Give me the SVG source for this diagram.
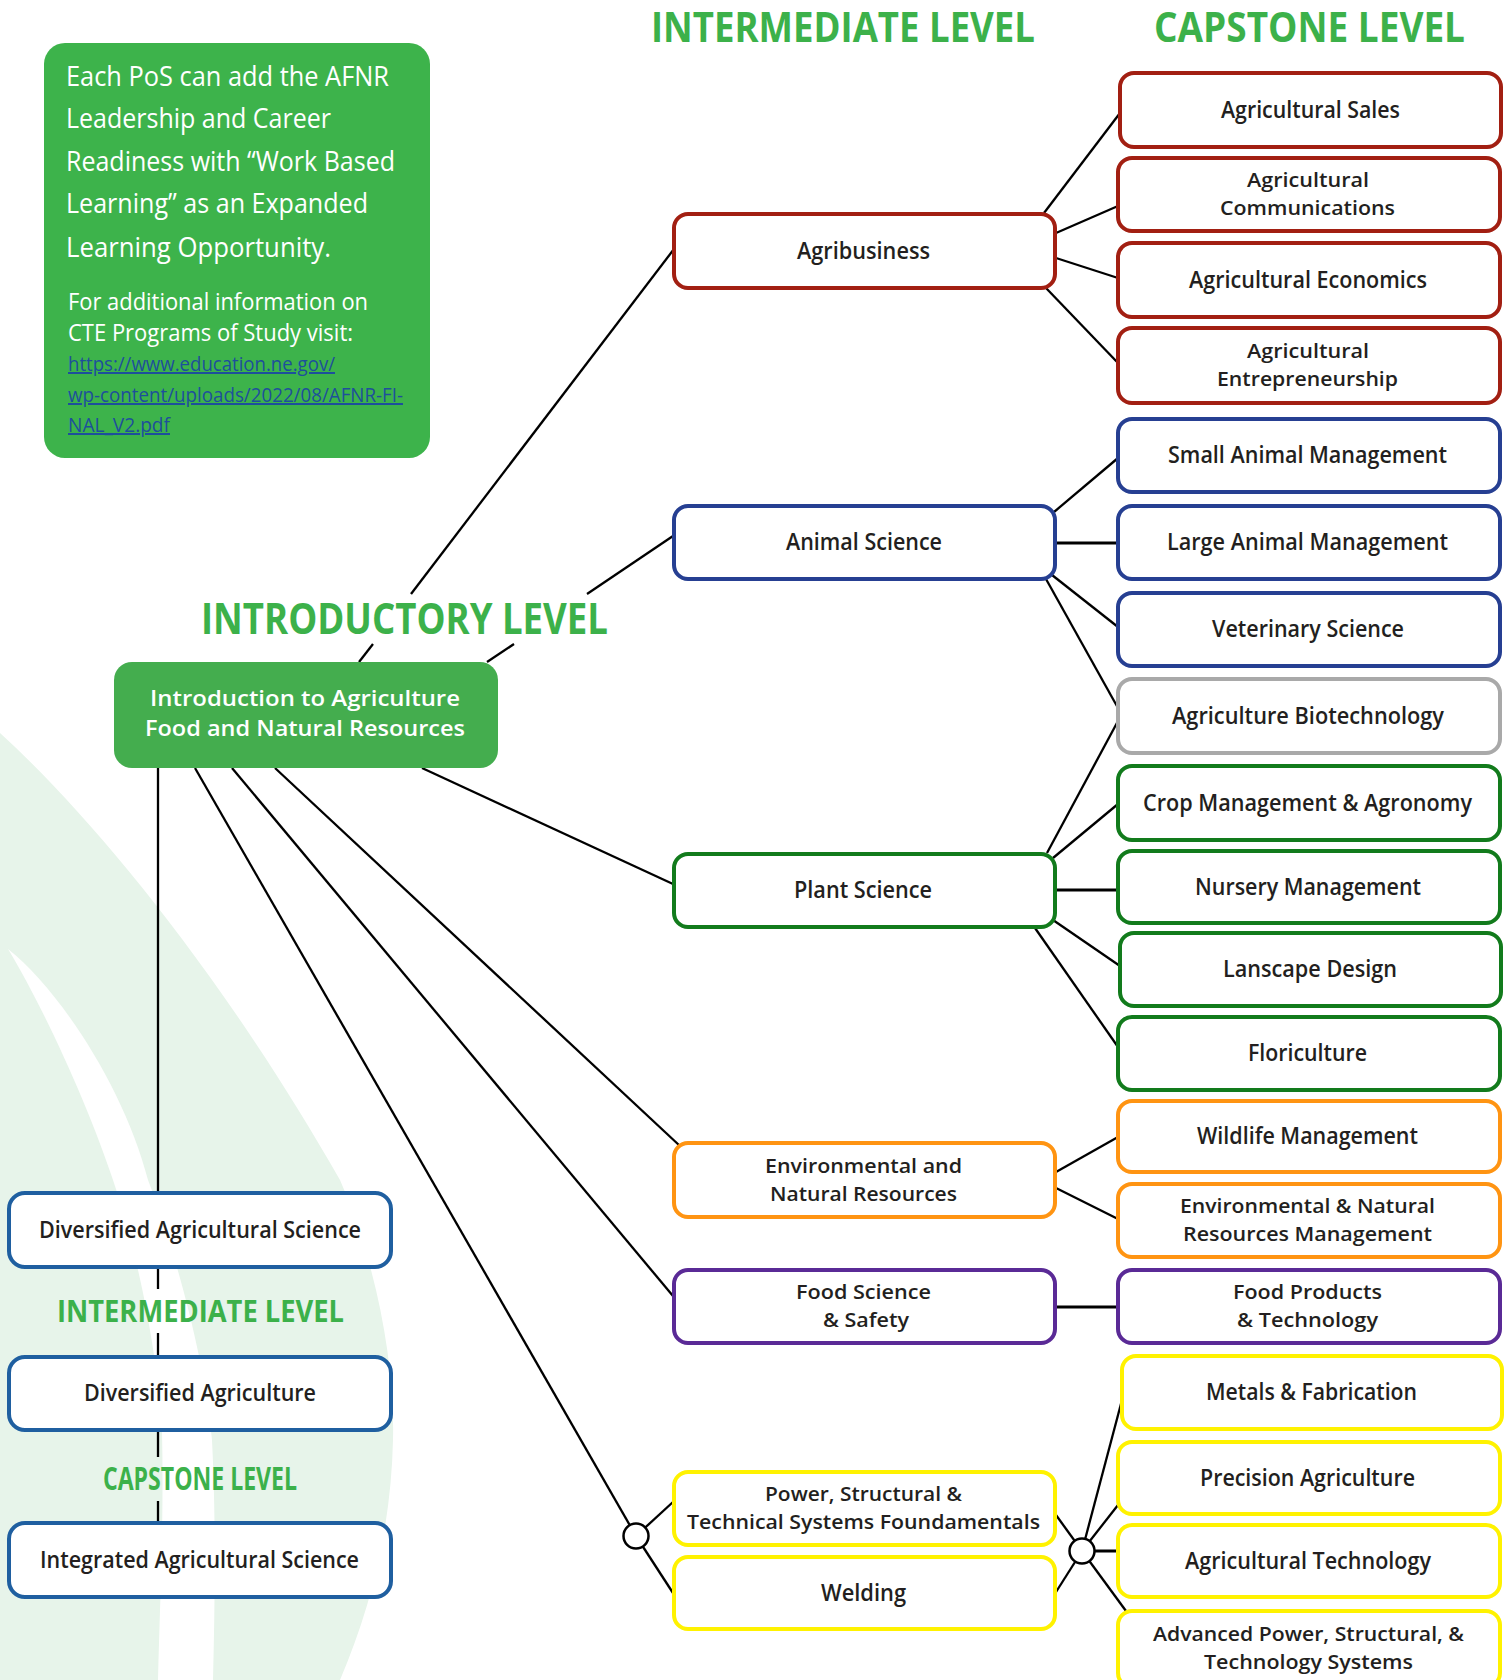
<svg xmlns="http://www.w3.org/2000/svg" width="1510" height="1680" viewBox="0 0 1510 1680">
<style>
.bg{fill:#e7f4ea}
.stripe{fill:#ffffff}
.box{fill:#ffffff;stroke-width:4}
.red{stroke:#a21f12}
.navy{stroke:#263f92}
.gray{stroke:#a9a9a9}
.grn{stroke:#127b1c}
.org{stroke:#ff9412}
.pur{stroke:#5a2a96}
.yel{stroke:#fff200}
.lblue{stroke:#1f5fa0}
.t{font-family:"Open Sans","Liberation Sans",sans-serif;font-weight:600;font-size:23px;fill:#231f20}
.t2{font-family:"Open Sans","Liberation Sans",sans-serif;font-weight:600;font-size:20.5px;fill:#231f20}
.hdr{font-family:"Open Sans","Liberation Sans",sans-serif;font-weight:700;fill:#3cb14a}
.info{font-family:"Open Sans","Liberation Sans",sans-serif;font-weight:400;fill:#ffffff}
.link{font-family:"Open Sans","Liberation Sans",sans-serif;font-weight:400;font-size:20px;fill:#1d4f9c;text-decoration:underline}
.wt{font-family:"Open Sans","Liberation Sans",sans-serif;font-weight:600;font-size:22px;fill:#ffffff}
.c line{stroke:#000000;stroke-width:2.3;fill:none}
.c line.thick{stroke-width:3.2}
.c circle{fill:#ffffff;stroke:#000000;stroke-width:2.5}
</style>

<g id="background">
<path class="bg" d="M0,733 C90,815 220,970 340,1180 C375,1260 395,1360 393,1440 C391,1530 370,1610 340,1680 L0,1680 Z"/>
<path class="stripe" d="M8,949 C60,990 125,1090 148,1180 C175,1250 205,1360 212,1440 C216,1520 215,1600 213,1680 L158,1680 C160,1600 164,1520 162,1430 C158,1360 140,1260 113,1180 C90,1110 45,1010 8,949 Z"/>
</g>

<g id="headers">
<text class="hdr" x="651" y="42" font-size="42" textLength="384" lengthAdjust="spacingAndGlyphs">INTERMEDIATE LEVEL</text>
<text class="hdr" x="1154" y="42" font-size="42" textLength="311" lengthAdjust="spacingAndGlyphs">CAPSTONE LEVEL</text>
<text class="hdr" x="201" y="634" font-size="43" textLength="407" lengthAdjust="spacingAndGlyphs">INTRODUCTORY LEVEL</text>
<text class="hdr" x="57" y="1322" font-size="31" textLength="287" lengthAdjust="spacingAndGlyphs">INTERMEDIATE LEVEL</text>
<text class="hdr" x="103" y="1490" font-size="32" textLength="194" lengthAdjust="spacingAndGlyphs">CAPSTONE LEVEL</text>
</g>

<g id="info-box">
<rect x="44" y="43" width="386" height="415" rx="21" fill="#3db34b"/>
<text class="info" font-size="27" x="66" y="86" textLength="323" lengthAdjust="spacingAndGlyphs">Each PoS can add the AFNR</text>
<text class="info" font-size="27" x="66" y="128" textLength="265" lengthAdjust="spacingAndGlyphs">Leadership and Career</text>
<text class="info" font-size="27" x="66" y="171" textLength="329" lengthAdjust="spacingAndGlyphs">Readiness with “Work Based</text>
<text class="info" font-size="27" x="66" y="213" textLength="302" lengthAdjust="spacingAndGlyphs">Learning” as an Expanded</text>
<text class="info" font-size="27" x="66" y="257" textLength="265" lengthAdjust="spacingAndGlyphs">Learning Opportunity.</text>
<text class="info" font-size="23" x="68" y="310" textLength="300" lengthAdjust="spacingAndGlyphs">For additional information on</text>
<text class="info" font-size="23" x="68" y="341" textLength="285" lengthAdjust="spacingAndGlyphs">CTE Programs of Study visit:</text>
<text class="link" x="68" y="371" textLength="267" lengthAdjust="spacingAndGlyphs">https://www.education.ne.gov/</text>
<text class="link" x="68" y="402" textLength="335" lengthAdjust="spacingAndGlyphs">wp-content/uploads/2022/08/AFNR-FI-</text>
<text class="link" x="68" y="432" textLength="102" lengthAdjust="spacingAndGlyphs">NAL_V2.pdf</text>
</g>

<g id="connectors" class="c">
<line x1="359" y1="662" x2="373" y2="644"/>
<line x1="411" y1="594" x2="674" y2="249"/>
<line x1="487" y1="662" x2="514" y2="644"/>
<line x1="587" y1="594" x2="673" y2="536"/>
<line x1="422" y1="768" x2="673" y2="884"/>
<line x1="275" y1="768" x2="680" y2="1146"/>
<line x1="232" y1="768" x2="673" y2="1296"/>
<line x1="195" y1="768" x2="636" y2="1536"/>
<line x1="636" y1="1536" x2="673" y2="1502"/>
<line x1="636" y1="1536" x2="673" y2="1593"/>
<line x1="158" y1="768" x2="158" y2="1193"/>
<line x1="158" y1="1267" x2="158" y2="1289"/>
<line x1="158" y1="1333" x2="158" y2="1357"/>
<line x1="158" y1="1430" x2="158" y2="1457"/>
<line x1="158" y1="1501" x2="158" y2="1523"/>
<line x1="1044" y1="213" x2="1120" y2="113"/>
<line x1="1056" y1="233" x2="1118" y2="206"/>
<line x1="1056" y1="258" x2="1118" y2="278"/>
<line x1="1046" y1="288" x2="1118" y2="363"/>
<line x1="1054" y1="512" x2="1118" y2="458"/>
<line class="thick" x1="1056" y1="543" x2="1118" y2="543"/>
<line x1="1052" y1="575" x2="1118" y2="627"/>
<line x1="1046" y1="579" x2="1118" y2="708"/>
<line x1="1047" y1="853" x2="1118" y2="721"/>
<line x1="1053" y1="858" x2="1118" y2="804"/>
<line class="thick" x1="1056" y1="890" x2="1118" y2="890"/>
<line x1="1053" y1="920" x2="1120" y2="966"/>
<line x1="1035" y1="928" x2="1118" y2="1047"/>
<line x1="1056" y1="1172" x2="1118" y2="1137"/>
<line x1="1056" y1="1188" x2="1118" y2="1219"/>
<line class="thick" x1="1056" y1="1307" x2="1118" y2="1307"/>
<line x1="1056" y1="1515" x2="1082" y2="1551"/>
<line x1="1056" y1="1592" x2="1082" y2="1551"/>
<line x1="1082" y1="1551" x2="1122" y2="1400"/>
<line x1="1082" y1="1551" x2="1118" y2="1505"/>
<line class="thick" x1="1082" y1="1551" x2="1118" y2="1551"/>
<line x1="1082" y1="1551" x2="1126" y2="1611"/>
<circle cx="636" cy="1536" r="12.5"/>
<circle cx="1082" cy="1551" r="12.5"/>
</g>

<g id="intro">
<rect x="114" y="662" width="384" height="106" rx="18" fill="#44ad4e"/>
<text class="wt" x="150" y="706" textLength="310" lengthAdjust="spacingAndGlyphs">Introduction to Agriculture</text>
<text class="wt" x="145" y="736" textLength="320" lengthAdjust="spacingAndGlyphs">Food and Natural Resources</text>
</g>

<g id="agribusiness"><rect class="box red" x="674" y="214" width="381" height="74" rx="14"/><text class="t" x="797" y="259" textLength="133" lengthAdjust="spacingAndGlyphs">Agribusiness</text></g>
<g id="animal-science"><rect class="box navy" x="674" y="506" width="381" height="73" rx="14"/><text class="t" x="786" y="550" textLength="156" lengthAdjust="spacingAndGlyphs">Animal Science</text></g>
<g id="plant-science"><rect class="box grn" x="674" y="854" width="381" height="73" rx="14"/><text class="t" x="794" y="898" textLength="138" lengthAdjust="spacingAndGlyphs">Plant Science</text></g>
<g id="env-nat-res"><rect class="box org" x="674" y="1143" width="381" height="74" rx="14"/><text class="t2" x="765" y="1172.5" textLength="197" lengthAdjust="spacingAndGlyphs">Environmental and</text><text class="t2" x="770" y="1200.5" textLength="187" lengthAdjust="spacingAndGlyphs">Natural Resources</text></g>
<g id="food-science"><rect class="box pur" x="674" y="1270" width="381" height="73" rx="14"/><text class="t2" x="796" y="1299" textLength="135" lengthAdjust="spacingAndGlyphs">Food Science</text><text class="t2" x="823" y="1327" textLength="86" lengthAdjust="spacingAndGlyphs">&amp; Safety</text></g>
<g id="power-structural"><rect class="box yel" x="674" y="1472" width="381" height="73" rx="14"/><text class="t2" x="765" y="1501" textLength="197" lengthAdjust="spacingAndGlyphs">Power, Structural &amp;</text><text class="t2" x="687" y="1529" textLength="353" lengthAdjust="spacingAndGlyphs">Technical Systems Foundamentals</text></g>
<g id="welding"><rect class="box yel" x="674" y="1557" width="381" height="72" rx="14"/><text class="t" x="821" y="1601" textLength="85" lengthAdjust="spacingAndGlyphs">Welding</text></g>

<g id="ag-sales"><rect class="box red" x="1120" y="73" width="381" height="74" rx="14"/><text class="t" x="1221" y="118" textLength="179" lengthAdjust="spacingAndGlyphs">Agricultural Sales</text></g>
<g id="ag-communications"><rect class="box red" x="1118" y="158" width="382" height="73" rx="14"/><text class="t2" x="1247" y="187" textLength="122" lengthAdjust="spacingAndGlyphs">Agricultural</text><text class="t2" x="1220" y="215" textLength="175" lengthAdjust="spacingAndGlyphs">Communications</text></g>
<g id="ag-economics"><rect class="box red" x="1118" y="243" width="382" height="74" rx="14"/><text class="t" x="1189" y="288" textLength="238" lengthAdjust="spacingAndGlyphs">Agricultural Economics</text></g>
<g id="ag-entrepreneurship"><rect class="box red" x="1118" y="328" width="382" height="75" rx="14"/><text class="t2" x="1247" y="358" textLength="122" lengthAdjust="spacingAndGlyphs">Agricultural</text><text class="t2" x="1217" y="386" textLength="181" lengthAdjust="spacingAndGlyphs">Entrepreneurship</text></g>
<g id="small-animal"><rect class="box navy" x="1118" y="419" width="382" height="73" rx="14"/><text class="t" x="1168" y="463" textLength="279" lengthAdjust="spacingAndGlyphs">Small Animal Management</text></g>
<g id="large-animal"><rect class="box navy" x="1118" y="506" width="382" height="73" rx="14"/><text class="t" x="1167" y="550" textLength="281" lengthAdjust="spacingAndGlyphs">Large Animal Management</text></g>
<g id="veterinary"><rect class="box navy" x="1118" y="593" width="382" height="73" rx="14"/><text class="t" x="1212" y="637" textLength="192" lengthAdjust="spacingAndGlyphs">Veterinary Science</text></g>
<g id="biotech"><rect class="box gray" x="1118" y="679" width="382" height="74" rx="14"/><text class="t" x="1172" y="724" textLength="272" lengthAdjust="spacingAndGlyphs">Agriculture Biotechnology</text></g>
<g id="crop"><rect class="box grn" x="1118" y="766" width="382" height="74" rx="14"/><text class="t" x="1143" y="811" textLength="329" lengthAdjust="spacingAndGlyphs">Crop Management &amp; Agronomy</text></g>
<g id="nursery"><rect class="box grn" x="1118" y="851" width="382" height="72" rx="14"/><text class="t" x="1195" y="895" textLength="226" lengthAdjust="spacingAndGlyphs">Nursery Management</text></g>
<g id="lanscape"><rect class="box grn" x="1120" y="933" width="381" height="73" rx="14"/><text class="t" x="1223" y="977" textLength="174" lengthAdjust="spacingAndGlyphs">Lanscape Design</text></g>
<g id="floriculture"><rect class="box grn" x="1118" y="1017" width="382" height="73" rx="14"/><text class="t" x="1248" y="1061" textLength="119" lengthAdjust="spacingAndGlyphs">Floriculture</text></g>
<g id="wildlife"><rect class="box org" x="1118" y="1101" width="382" height="71" rx="14"/><text class="t" x="1197" y="1144" textLength="221" lengthAdjust="spacingAndGlyphs">Wildlife Management</text></g>
<g id="env-mgmt"><rect class="box org" x="1118" y="1184" width="382" height="73" rx="14"/><text class="t2" x="1180" y="1213" textLength="255" lengthAdjust="spacingAndGlyphs">Environmental &amp; Natural</text><text class="t2" x="1183" y="1241" textLength="249" lengthAdjust="spacingAndGlyphs">Resources Management</text></g>
<g id="food-products"><rect class="box pur" x="1118" y="1270" width="382" height="73" rx="14"/><text class="t2" x="1233" y="1299" textLength="149" lengthAdjust="spacingAndGlyphs">Food Products</text><text class="t2" x="1237" y="1327" textLength="141" lengthAdjust="spacingAndGlyphs">&amp; Technology</text></g>
<g id="metals"><rect class="box yel" x="1122" y="1356" width="380" height="73" rx="14"/><text class="t" x="1206" y="1400" textLength="211" lengthAdjust="spacingAndGlyphs">Metals &amp; Fabrication</text></g>
<g id="precision"><rect class="box yel" x="1118" y="1442" width="382" height="72" rx="14"/><text class="t" x="1200" y="1486" textLength="215" lengthAdjust="spacingAndGlyphs">Precision Agriculture</text></g>
<g id="ag-technology"><rect class="box yel" x="1118" y="1525" width="382" height="72" rx="14"/><text class="t" x="1185" y="1569" textLength="246" lengthAdjust="spacingAndGlyphs">Agricultural Technology</text></g>
<g id="advanced-power"><rect class="box yel" x="1118" y="1611" width="382" height="76" rx="14"/><text class="t2" x="1153" y="1641" textLength="311" lengthAdjust="spacingAndGlyphs">Advanced Power, Structural, &amp;</text><text class="t2" x="1204" y="1669" textLength="209" lengthAdjust="spacingAndGlyphs">Technology Systems</text></g>

<g id="div-ag-science"><rect class="box lblue" x="9" y="1193" width="382" height="74" rx="16"/><text class="t" x="39" y="1238" textLength="322" lengthAdjust="spacingAndGlyphs">Diversified Agricultural Science</text></g>
<g id="div-agriculture"><rect class="box lblue" x="9" y="1357" width="382" height="73" rx="16"/><text class="t" x="84" y="1401" textLength="232" lengthAdjust="spacingAndGlyphs">Diversified Agriculture</text></g>
<g id="integrated-ag-science"><rect class="box lblue" x="9" y="1523" width="382" height="74" rx="16"/><text class="t" x="40" y="1568" textLength="319" lengthAdjust="spacingAndGlyphs">Integrated Agricultural Science</text></g>
</svg>
